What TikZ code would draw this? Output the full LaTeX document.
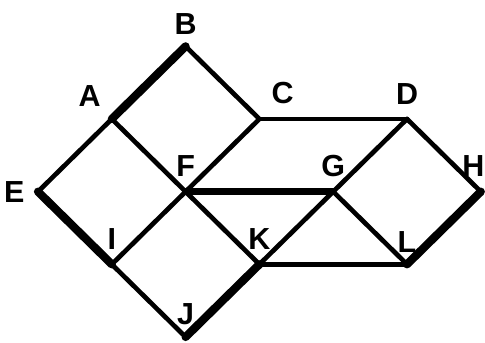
\documentclass[tikz,border=0pt]{standalone}
\usepackage{fontspec}
\setmainfont{Liberation Sans}
\usepackage{tikz}
\usetikzlibrary{positioning}
\tikzset{
  edg/.style={line width=4pt,line cap=round},
  midedg/.style={line width=5.4pt,line cap=round},
  hvy/.style={line width=7pt,line cap=round},
  lbl/.style={font=\fontsize{26}{26}\selectfont\bfseries,inner sep=0pt}
}
\begin{document}
\begin{tikzpicture}[x=2.214cm,y=2.18cm]
\useasboundingbox (-1.14cm,-0.18cm) rectangle (13.41cm,10.11cm);
% vertices
\coordinate (E) at (0,2);
\coordinate (A) at (1,3);
\coordinate (B) at (2,4);
\coordinate (C) at (3,3);
\coordinate (D) at (5,3);
\coordinate (H) at (6,2);
\coordinate (F) at (2,2);
\coordinate (G) at (4,2);
\coordinate (I) at (1,1);
\coordinate (K) at (3,1);
\coordinate (L) at (5,1);
\coordinate (J) at (2,0);
% edges
\foreach \u/\v in {B/C,C/D,D/H,A/E,A/F,F/K,C/F,F/I,I/J,K/G,G/D,G/L,K/L}{\draw[edg] (\u)--(\v);}
\foreach \u/\v in {A/B,E/I,J/K,H/L}{\draw[hvy] (\u)--(\v);}
\draw[midedg] (F)--(G);
% labels
\node[lbl,above=0.36cm of B] (lB) {B};
\node[lbl,above left=0.36cm and 0.33cm of A] (lA) {A};
\node[lbl,above right=0.45cm and 0.36cm of C] (lC) {C};
\node[lbl,above=0.42cm of D] (lD) {D};
\node[lbl,left=0.4cm of E] (lE) {E};
\node[lbl,above=0.45cm of F] (lF) {F};
\node[lbl,above=0.45cm of G] (lG) {G};
\node[lbl,above=0.45cm of H,xshift=-0.22cm] (lH) {H};
\node[lbl,above=0.45cm of I] (lI) {I};
\node[lbl,above=0.45cm of K] (lK) {K};
\node[lbl,above=0.36cm of L] (lL) {L};
\node[lbl,above=0.36cm of J] (lJ) {J};
\end{tikzpicture}
\end{document}
